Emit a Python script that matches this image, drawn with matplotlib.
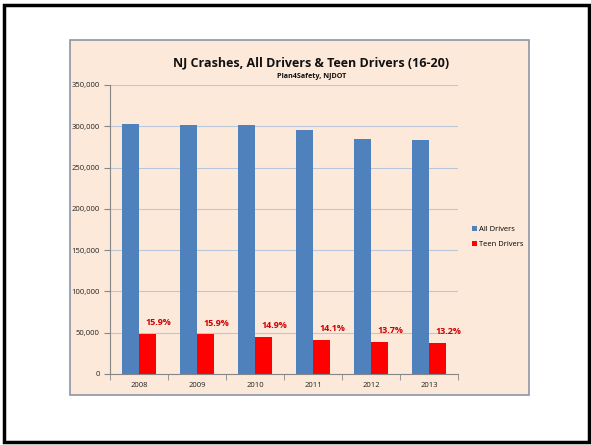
import numpy as np
import matplotlib.pyplot as plt
from matplotlib.patches import Rectangle

years = ['2008', '2009', '2010', '2011', '2012', '2013']
all_drivers = [303000, 301000, 301500, 295000, 284000, 283000]
teen_drivers = [48200, 47900, 44900, 41600, 38900, 37400]
teen_pct = ['15.9%', '15.9%', '14.9%', '14.1%', '13.7%', '13.2%']

plt.rcParams['font.family'] = ['Open Sans', 'DejaVu Sans']

fig = plt.figure(figsize=(5.91, 4.45), dpi=100)
fig.patch.set_facecolor('white')

# outer frame
fig.patches.append(Rectangle((3.5 / 591, 3.5 / 445), 585 / 591, 437 / 445,
                             transform=fig.transFigure, fill=False,
                             edgecolor='black', linewidth=2.5, zorder=-2))
# chart area
fig.patches.append(Rectangle((70 / 591, 1 - 395 / 445), 459 / 591, 355 / 445,
                             transform=fig.transFigure, facecolor='#FDE9D9',
                             edgecolor='#8C96A3', linewidth=1.2, zorder=-1))

ax = fig.add_axes([110 / 591, 1 - 374 / 445, 348 / 591, 289 / 445])
ax.set_zorder(1)
ax.set_facecolor('none')

x = np.arange(len(years))
w = 0.285
ax.bar(x - w / 2, all_drivers, w, color='#4F81BD', label='All Drivers', zorder=2)
ax.bar(x + w / 2, teen_drivers, w, color='#FF0000', label='Teen Drivers', zorder=2)

# percent share labels above the teen bars
for i in range(len(years)):
    ax.annotate(teen_pct[i], (x[i] + w / 2, teen_drivers[i]),
                xytext=(8, 5), textcoords='offset points', ha='center', va='bottom',
                color='#D00000', fontsize=6.5, fontweight='bold')

ax.set_xlim(-0.5, len(years) - 0.5)
ax.set_ylim(0, 350000)
ax.set_yticks(range(0, 350001, 50000))
ax.set_yticklabels(['{:,}'.format(v) for v in range(0, 350001, 50000)])
ax.set_xticks(x)
ax.set_xticklabels(years)
ax.set_xticks(np.arange(-0.5, len(years)), minor=True)
ax.tick_params(axis='x', which='major', length=0, pad=6)
ax.tick_params(axis='x', which='minor', length=4, color='#868686', direction='out')
ax.tick_params(axis='y', length=4, color='#868686', direction='out')
ax.tick_params(labelsize=5.5, labelcolor='#222222')
ax.grid(axis='y', color='#B9C7D9', linewidth=0.8, zorder=0)
ax.set_axisbelow(True)
for s in ['top', 'right']:
    ax.spines[s].set_visible(False)
for s in ['left', 'bottom']:
    ax.spines[s].set_color('#868686')

fig.text(0.527, 1 - 63 / 445, 'NJ Crashes, All Drivers & Teen Drivers (16-20)',
         ha='center', va='center', fontsize=9, fontweight='bold', color='#111111')
fig.text(0.527, 1 - 77 / 445, 'Plan4Safety, NJDOT', ha='center', va='center',
         fontsize=5.2, fontweight='bold', color='#111111')

ax.legend(loc='center left', bbox_to_anchor=(1.02, 0.475), frameon=False,
          fontsize=5.5, handlelength=0.7, handleheight=0.7, handletextpad=0.3,
          labelspacing=1.0)

fig.savefig('out.png', dpi=100)
